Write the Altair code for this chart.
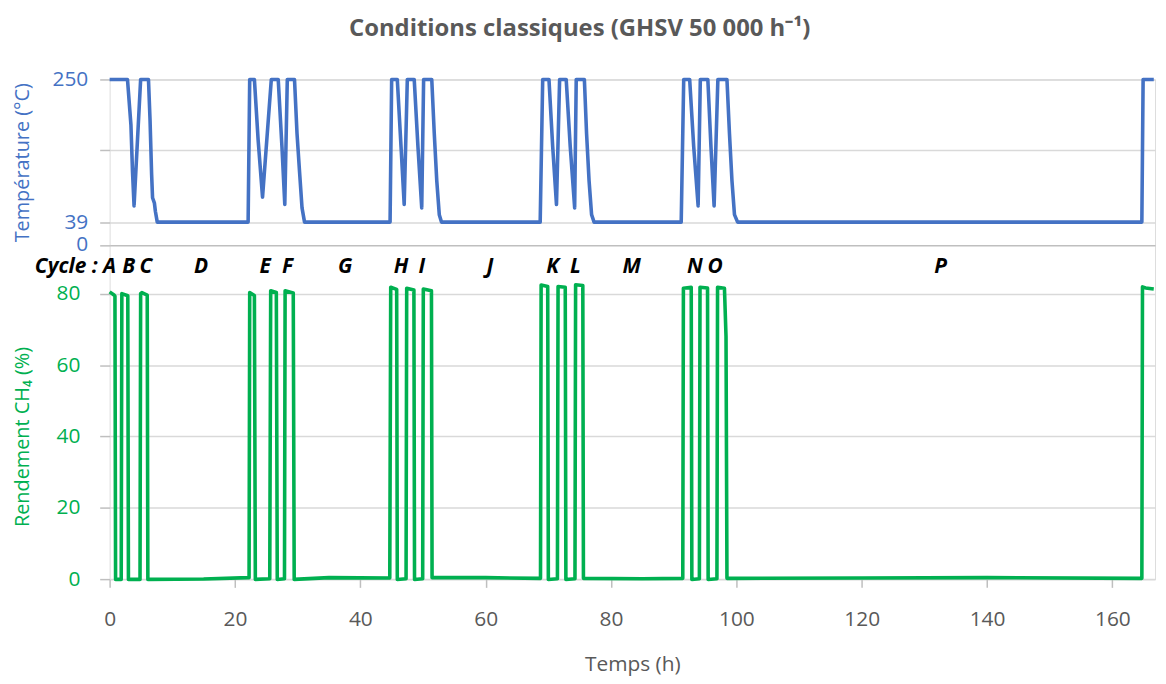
import altair as alt
import pandas as pd

# ---- data ----
temp_h = [0, 2.85, 3.4, 3.65, 3.9, 4.95, 6.2, 6.45, 6.7, 6.85, 7.15, 7.3, 7.6,
          22.1, 22.35, 23.1, 23.7, 24.4, 25.8, 26.9, 27.5, 27.95, 28.35, 29.5, 29.9, 30.3, 30.7, 31.1,
          44.75, 45.0, 45.9, 46.5, 47.0, 47.5, 48.6, 49.2, 49.8, 50.1, 51.4, 51.8, 52.2, 52.6, 52.95,
          68.7, 69.1, 70.1, 70.7, 71.3, 71.8, 72.85, 73.5, 74.2, 74.45, 75.75, 76.1, 76.5, 76.9, 77.3,
          91.2, 91.6, 92.55, 93.2, 93.9, 94.25, 95.45, 95.95, 96.45, 97.05, 98.5, 98.9, 99.3, 99.7, 100.2,
          164.7, 164.9, 166.6]
temp_c = [250, 250, 183, 114, 63, 250, 250, 190, 110, 75, 67, 55, 39,
          39, 250, 250, 160, 76, 250, 250, 150, 65, 250, 250, 170, 114, 60, 39,
          39, 250, 250, 150, 65, 250, 250, 150, 60, 250, 250, 170, 100, 50, 39,
          39, 250, 250, 150, 65, 250, 250, 150, 60, 250, 250, 170, 100, 50, 39,
          39, 250, 250, 150, 63, 250, 250, 150, 63, 250, 250, 170, 100, 50, 39,
          39, 250, 250]

yield_h = [0, 0.7, 0.85, 0.95, 1.85, 1.95, 2.9, 3.0, 4.85, 4.95, 5.15, 6.0, 6.1, 15, 22.1,
           22.25, 22.35, 23.1, 23.25, 25.55, 25.7, 26.6, 26.75, 27.9, 28.0, 29.3, 29.45, 35, 44.7,
           44.85, 45.8, 45.9, 47.3, 47.4, 48.55, 48.65, 49.95, 50.05, 51.35, 51.45, 60, 68.75,
           68.85, 69.9, 70.0, 71.45, 71.55, 72.7, 72.8, 74.25, 74.35, 75.5, 75.6, 85, 91.45,
           91.55, 92.8, 92.9, 94.1, 94.2, 95.4, 95.5, 96.9, 97.0, 98.1, 98.35, 98.5, 120, 140, 164.7,
           164.8, 165.3, 166.6]
yield_pct = [80.5, 79.6, 79.3, 0, 0, 80, 79.4, 0, 0, 80, 80.3, 79.6, 0, 0.1, 0.5,
             0.5, 80.3, 79.5, 0, 0.2, 80.8, 80.3, 0, 0.2, 80.8, 80.2, 0, 0.5, 0.4,
             81.8, 81.2, 0, 0.2, 81.5, 81.0, 0, 0.2, 81.3, 80.8, 0.5, 0.5, 0.3,
             82.4, 82.0, 0, 0.2, 82.0, 81.8, 0, 0.2, 82.5, 82.3, 0.3, 0.2, 0.3,
             81.5, 81.8, 0, 0.2, 81.8, 81.6, 0, 0.2, 81.8, 81.5, 68, 0.3, 0.4, 0.5, 0.3,
             81.9, 81.6, 81.3]

cycle_labels = ["A", "B", "C", "D", "E", "F", "G", "H", "I", "J", "K", "L", "M", "N", "O", "P"]
cycle_h = [0, 3.05, 5.8, 14.6, 24.8, 28.4, 37.6, 46.5, 49.8, 60.7, 70.7, 74.3, 83.3, 93.4, 96.6, 132.6]
cycle_word = ["Cycle :"]
cycle_word_h = [-1.9]
cycle_level = 87.4

x_ticks = [0, 20, 40, 60, 80, 100, 120, 140, 160]
temp_ticks = [0, 39, 145, 250]
yield_ticks = [0, 20, 40, 60, 80]

# ---- styling ----
FONT = "Open Sans"
BLUE = "#4472C4"
GREEN = "#00B050"
GREY = "#595959"
LINE_GREY = "#BFBFBF"
GRID_GREY = "#D9D9D9"
W = 1052.4
H = 503.3

temp_df = pd.DataFrame({"h": temp_h, "c": temp_c})
yield_df = pd.DataFrame({"h": yield_h, "y": yield_pct})
cyc_df = pd.DataFrame({"h": cycle_h, "lab": cycle_labels, "lvl": [cycle_level] * len(cycle_h)})
word_df = pd.DataFrame({"h": cycle_word_h, "lab": cycle_word, "lvl": [cycle_level]})

x_scale = alt.Scale(domain=[0, 166.8], nice=False, zero=False)
x_axis = alt.Axis(values=x_ticks, title="Temps (h)", grid=False, domain=False,
                  tickSize=8, tickColor=LINE_GREY, tickWidth=1.5, labelFlush=False,
                  labelFont=FONT, labelFontSize=21, labelColor=GREY, labelPadding=21,
                  titleFont=FONT, titleFontSize=21, titleColor=GREY, titleFontWeight="normal",
                  titlePadding=25)

temp_axis = alt.Axis(values=temp_ticks, orient="left",
                     labelExpr="datum.value == 145 ? '' : datum.label",
                     domain=False, tickSize=10, tickColor=LINE_GREY, tickWidth=1.5,
                     grid=True, gridWidth=1.5, labelFlush=False,
                     gridColor={"condition": {"test": "datum.value == 0", "value": LINE_GREY},
                                "value": GRID_GREY},
                     labelFont=FONT, labelFontSize=21, labelColor=BLUE, labelPadding=12,
                     title="Température (°C)", titleFont=FONT, titleFontSize=20,
                     titleColor=BLUE, titleFontWeight="normal", titleX=-78)

yield_axis = alt.Axis(values=yield_ticks, orient="left", domain=False,
                      tickSize=10, tickColor=LINE_GREY, tickWidth=1.5, labelFlush=False,
                      grid=True, gridWidth=1.5, gridColor=GRID_GREY,
                      labelFont=FONT, labelFontSize=21, labelColor=GREEN, labelPadding=20,
                      title="Rendement CH₄ (%)", titleFont=FONT, titleFontSize=20,
                      titleColor=GREEN, titleFontWeight="normal", titleX=-78)

temp_scale = alt.Scale(domain=[0, 39, 250], range=[166.6, 143.6, 0], nice=False, zero=False)
yield_scale = alt.Scale(domain=[0, 80], range=[H, 215.6], nice=False, zero=False)

temp_line = alt.Chart(temp_df).mark_line(color=BLUE, strokeWidth=3.6, strokeJoin="round").encode(
    x=alt.X("h:Q", scale=x_scale, axis=x_axis),
    y=alt.Y("c:Q", scale=temp_scale, axis=temp_axis),
)

yield_line = alt.Chart(yield_df).mark_line(color=GREEN, strokeWidth=3.6, strokeJoin="round").encode(
    x=alt.X("h:Q", scale=x_scale, axis=x_axis),
    y=alt.Y("y:Q", scale=yield_scale, axis=yield_axis),
)

cyc_text = alt.Chart(cyc_df).mark_text(font=FONT, fontSize=21, fontWeight="bold", fontStyle="italic",
                                       color="black", align="center", baseline="middle").encode(
    x=alt.X("h:Q", scale=x_scale),
    y=alt.Y("lvl:Q", scale=yield_scale),
    text="lab:N",
)
word_text = alt.Chart(word_df).mark_text(font=FONT, fontSize=21, fontWeight="bold", fontStyle="italic",
                                         color="black", align="right", baseline="middle").encode(
    x=alt.X("h:Q", scale=x_scale),
    y=alt.Y("lvl:Q", scale=yield_scale),
    text="lab:N",
)

green_group = alt.layer(yield_line, cyc_text, word_text)

chart = alt.layer(temp_line, green_group).resolve_scale(y="independent").properties(
    width=W, height=H,
    autosize=alt.AutoSizeParams(type="none"),
    padding={"left": 102.3, "top": 69.7, "right": 3, "bottom": 95},
    title=alt.TitleParams("Conditions classiques (GHSV 50 000 h⁻¹)", font=FONT, fontSize=24,
                          fontWeight="bold", color=GREY, anchor="middle", dx=-53, offset=28),
).configure_view(stroke=LINE_GREY, strokeWidth=1.5).configure(background="white")

chart.save("out.html", embed_options={"renderer": "svg", "actions": False})
